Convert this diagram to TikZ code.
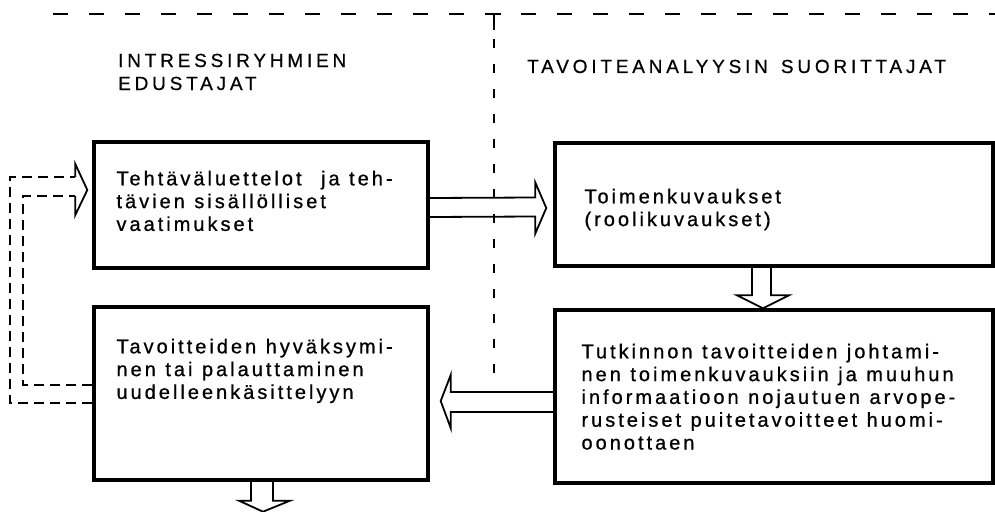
\documentclass[tikz,border=0pt]{standalone}
\usepackage{fontspec}
\setmainfont{Liberation Sans}
\newfontfamily\bodyletters{Liberation Sans}[LetterSpace=15,FakeBold=0.8]
\newfontfamily\headletters{Liberation Sans}[LetterSpace=20,FakeBold=0.6]
\newcommand{\bodytype}{\bodyletters\fontsize{20}{22.8}\selectfont}
\newcommand{\headtype}{\headletters\fontsize{19}{23}\selectfont}
\usetikzlibrary{calc}

\tikzset{
  box/.style={draw, line width=3.4pt, inner sep=0pt, fill=white},
  txt/.style={anchor=base west, inner sep=0pt, text width=420pt, align=left, font=\bodytype,
    execute at begin node={\spaceskip 9.5pt plus 2pt\relax}},
  head/.style={anchor=base west, inner sep=0pt, text width=520pt, align=left, font=\headtype,
    execute at begin node={\spaceskip 13pt plus 2pt\relax}},
  hollow/.style={draw, line width=1.8pt, line join=miter},
  loopline/.style={line width=1.7pt, dash pattern=on 10pt off 6pt},
  border/.style={line width=2.6pt, dash pattern=on 15pt off 21pt},
  divider/.style={line width=1.8pt, dash pattern=on 9pt off 16pt}
}

\begin{document}
\begin{tikzpicture}[x=1pt, y=-1pt]
\useasboundingbox (0,0) rectangle (995,511);

% group borders
\coordinate (topL) at (53,14);
\coordinate (topR) at (1000,14);
\coordinate (teeT) at (494,14);
\coordinate (teeB) at (494,383);
\draw[border] (topL) -- (topR);
\draw[divider] (teeT) -- (teeB);
\draw[line width=1.8pt] (487,14) -- (501,14) (teeT) -- ++(0,16);

% headings
\node[head] (h1) at (118,67) {INTRESSIRYHMIEN\\EDUSTAJAT};
\node[head] (h2) at (527,73) {TAVOITEANALYYSIN SUORITTAJAT};

% boxes
\node[box, minimum width=334pt, minimum height=126pt] (b1) at (261,205) {};
\node[box, minimum width=334pt, minimum height=173pt] (b2) at (261,393.5) {};
\node[box, minimum width=438pt, minimum height=123pt] (b3) at (774,204.5) {};
\node[box, minimum width=438pt, minimum height=173pt] (b4) at (774,396.5) {};

% box texts
\node[txt] (t1) at ($(b1.north west)+(24,45)$) {Tehtäväluettelot\hspace{10pt} ja teh-\\tävien sisällölliset\\vaatimukset};
\node[txt] (t3) at ($(b3.north west)+(31,62)$) {Toimenkuvaukset\\(roolikuvaukset)};
\node[txt] (t2) at ($(b2.north west)+(24,48)$) {Tavoitteiden hyväksymi-\\nen tai palauttaminen\\uudelleenkäsittelyyn};
\node[txt] (t4) at ($(b4.north west)+(28,50)$) {Tutkinnon tavoitteiden johtami-\\nen toimenkuvauksiin ja muuhun\\informaatioon nojautuen arvope-\\rusteiset puitetavoitteet huomi-\\oonottaen};

% b1 -> b3
\draw[hollow] ($(b1.east)+(0,-7)$) -- ($(b3.west)+(-18,-7)$) -- ($(b3.west)+(-18,-22)$)
  -- ($(b3.west)+(-7,3.5)$) -- ($(b3.west)+(-18,29)$) -- ($(b3.west)+(-18,12)$) -- ($(b1.east)+(0,12)$);

% b3 -> b4
\draw[hollow] ($(b3.south)+(-22,0)$) -- ($(b4.north)+(-22,-13)$) -- ($(b4.north)+(-37,-13)$)
  -- ($(b4.north)+(-11,0)$) -- ($(b4.north)+(15,-13)$) -- ($(b4.north)+(-3,-13)$) -- ($(b3.south)+(-3,0)$);

% b4 -> b2
\draw[hollow] ($(b4.west)+(0,-4.5)$) -- ($(b2.east)+(21,-1.5)$) -- ($(b2.east)+(21,-18.5)$)
  -- ($(b2.east)+(11,7.5)$) -- ($(b2.east)+(21,34.5)$) -- ($(b2.east)+(21,18.5)$) -- ($(b4.west)+(0,15.5)$);

% b2 -> onward
\coordinate (out) at ($(b2.south)+(2,30)$);
\draw[hollow] ($(b2.south)+(-10,0)$) -- ($(out)+(-12,-11)$) -- ($(out)+(-24,-11)$)
  -- (out) -- ($(out)+(27,-11)$) -- ($(out)+(10,-11)$) -- ($(b2.south)+(12,0)$);

% dashed return loop b2 -> b1
\draw[loopline] ($(b2.west)+(0,9.5)$) -- ($(b2.west)+(-82,9.5)$) -- ($(b1.west)+(-82,-28)$) -- ($(b1.west)+(-17,-28)$);
\draw[loopline] ($(b2.west)+(0,-8.5)$) -- ($(b2.west)+(-69,-8.5)$) -- ($(b1.west)+(-69,-9)$) -- ($(b1.west)+(-17,-9)$);
\draw[line width=1.8pt, line join=miter] ($(b1.west)+(-17,-28)$) -- ($(b1.west)+(-17,-41)$)
  -- ($(b1.west)+(-5,-15)$) -- ($(b1.west)+(-17,10)$) -- ($(b1.west)+(-17,-9)$);
\end{tikzpicture}
\end{document}
